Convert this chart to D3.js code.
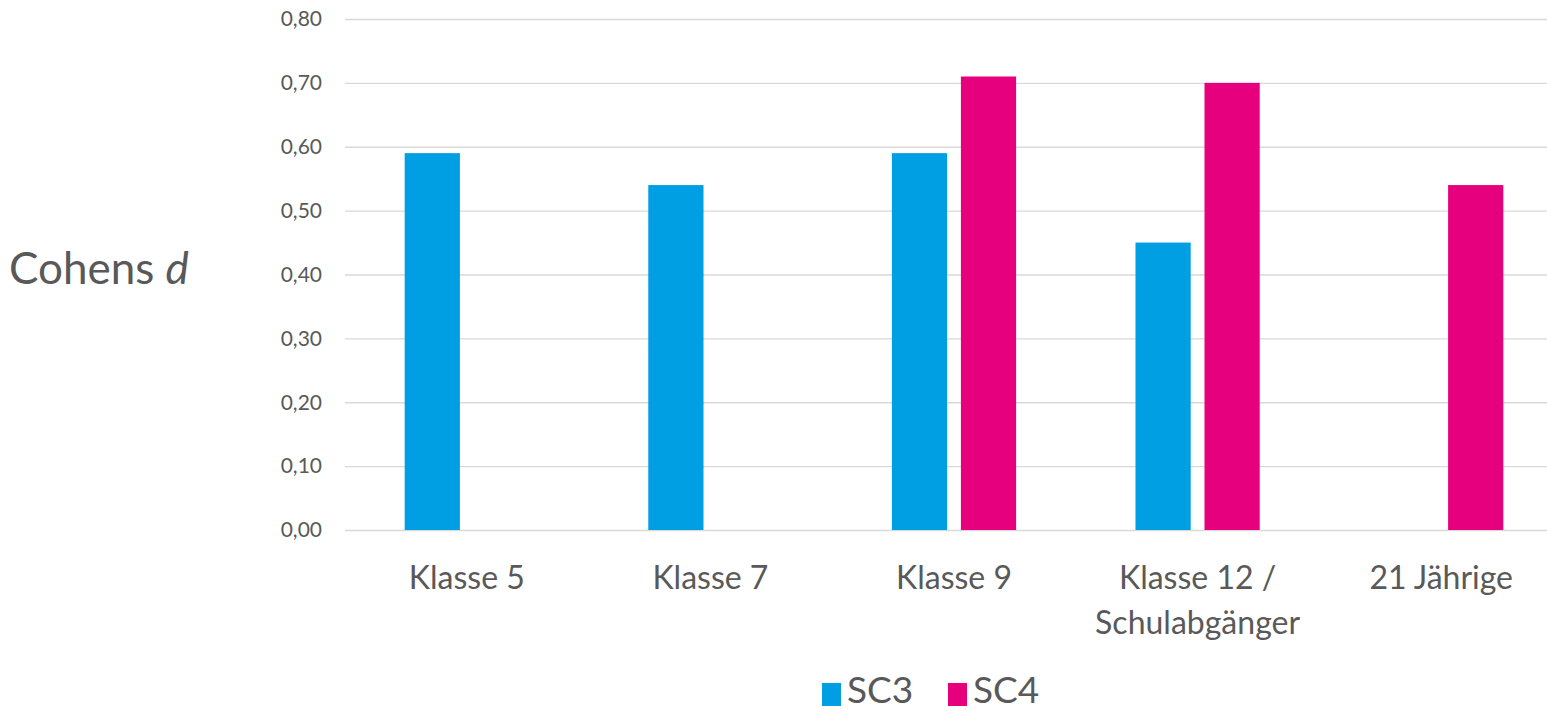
<!DOCTYPE html>
<html lang="de">
<head>
<meta charset="UTF-8">
<title>Cohens d</title>
<script src="https://cdn.jsdelivr.net/npm/d3@7"></script>
<style>
    body { margin: 0; background: #fff; }
    svg { display: block; font-family: Lato, "Open Sans", sans-serif; }
</style>
</head>
<body>
<script>
    // data
    const categories = ["Klasse 5", "Klasse 7", "Klasse 9", "Klasse 12 /\nSchulabgänger", "21 Jährige"];
    const seriesNames = ["SC3", "SC4"];
    const sc3 = [0.59, 0.54, 0.59, 0.45, null];
    const sc4 = [null, null, 0.71, 0.70, 0.54];
    const yTicks = [0, 0.1, 0.2, 0.3, 0.4, 0.5, 0.6, 0.7, 0.8];
    const colors = ["#009fe3", "#e6007e"];

    const width = 1547, height = 711;
    const svg = d3.select("body").append("svg")
        .attr("width", width).attr("height", height);

    const x0 = d3.scaleBand()
        .domain(categories)
        .range([345, 1563])
        .paddingInner(0.49)
        .paddingOuter(0.245);
    const x1 = d3.scaleBand()
        .domain(seriesNames)
        .range([0, x0.bandwidth()])
        .paddingInner(0.2);
    const y = d3.scaleLinear().domain([0, 0.8]).range([530, 19]);

    // gridlines
    svg.append("g").selectAll("line")
        .data(yTicks)
        .enter().append("line")
        .attr("x1", 345).attr("x2", width)
        .attr("y1", d => y(d) + 0.5).attr("y2", d => y(d) + 0.5)
        .attr("stroke", "#d9d9d9").attr("stroke-width", 1.3);

    // y axis labels
    const fmt = d => d3.format(".2f")(d).replace(".", ",");
    svg.append("g").selectAll("text")
        .data(yTicks)
        .enter().append("text")
        .attr("x", 322).attr("y", d => y(d))
        .attr("dy", "0.35em")
        .attr("text-anchor", "end")
        .attr("fill", "#595959")
        .style("font-size", "21px")
        .text(fmt);

    // bars
    const rows = categories.map((c, i) => ({cat: c, values: [sc3[i], sc4[i]]}));
    svg.append("g").selectAll("g")
        .data(rows)
        .enter().append("g")
        .attr("transform", d => `translate(${x0(d.cat)},0)`)
        .selectAll("rect")
        .data(d => d.values.map((v, j) => ({key: seriesNames[j], v: v, j: j})).filter(e => e.v !== null))
        .enter().append("rect")
        .attr("x", d => x1(d.key))
        .attr("width", x1.bandwidth())
        .attr("y", d => y(d.v))
        .attr("height", d => y(0) - y(d.v))
        .attr("fill", d => colors[d.j]);

    // category labels
    const catLabels = svg.append("g").selectAll("text")
        .data(categories)
        .enter().append("text")
        .attr("x", d => x0(d) + x0.bandwidth() / 2)
        .attr("y", 589)
        .attr("text-anchor", "middle")
        .attr("fill", "#595959")
        .style("font-size", "32px");
    catLabels.each(function (d) {
        const lines = d.split("\n");
        d3.select(this).selectAll("tspan")
            .data(lines)
            .enter().append("tspan")
            .attr("x", x0(d) + x0.bandwidth() / 2)
            .attr("dy", (l, i) => i === 0 ? 0 : 45)
            .text(l => l);
    });

    // y title
    const yt = svg.append("text")
        .attr("x", 9).attr("y", 284)
        .attr("fill", "#595959")
        .style("font-size", "44px");
    yt.append("tspan").text("Cohens ");
    yt.append("tspan").style("font-style", "italic").text("d");

    // legend
    const legendX = [822, 948];
    const legend = svg.append("g").selectAll("g")
        .data(seriesNames)
        .enter().append("g")
        .attr("transform", (d, i) => `translate(${legendX[i]},683)`);
    legend.append("rect")
        .attr("width", 19).attr("height", 23)
        .attr("fill", (d, i) => colors[i]);
    legend.append("text")
        .attr("x", 25).attr("y", 20)
        .attr("fill", "#595959")
        .style("font-size", "37px")
        .text(d => d);
</script>
</body>
</html>
